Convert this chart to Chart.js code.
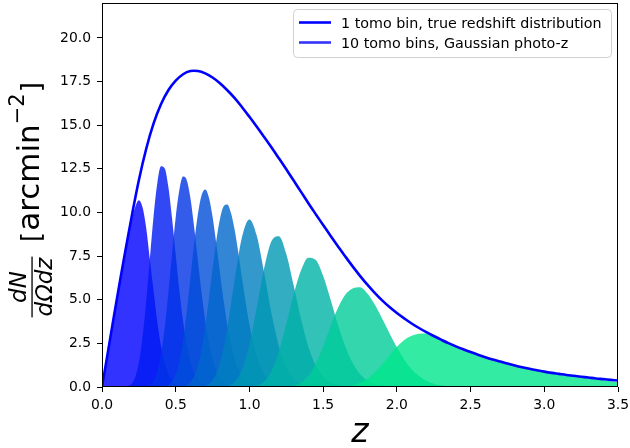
<!DOCTYPE html>
<html><head><meta charset="utf-8">
<script src="https://cdn.jsdelivr.net/npm/chart.js@4.4.1/dist/chart.umd.min.js"></script>
<style>html,body{margin:0;padding:0;background:#fff;}canvas{display:block;}</style>
</head><body>
<canvas id="c" width="630" height="448"></canvas>
<script>
// ---- data ----
const zMain = [0,0.05,0.1,0.15,0.2,0.25,0.3,0.35,0.4,0.45,0.5,0.55,0.6,0.65,0.7,0.75,0.8,0.85,0.9,0.95,1.0,1.05,1.1,1.15,1.2,1.25,1.3,1.35,1.4,1.45,1.5,1.55,1.6,1.65,1.7,1.75,1.8,1.85,1.9,1.95,2.0,2.05,2.1,2.15,2.2,2.25,2.3,2.35,2.4,2.45,2.5,2.55,2.6,2.65,2.7,2.75,2.8,2.85,2.9,2.95,3.0,3.05,3.1,3.15,3.2,3.25,3.3,3.35,3.4,3.45,3.5];
const nTrue = [0,2.5,5.0,7.4,9.7,11.85,13.65,15.1,16.2,17.0,17.55,17.92,18.1,18.1,17.97,17.73,17.4,17.0,16.55,16.03,15.48,14.91,14.32,13.72,13.1,12.47,11.83,11.18,10.53,9.9,9.28,8.67,8.07,7.48,6.91,6.37,5.86,5.39,4.96,4.58,4.24,3.93,3.64,3.38,3.14,2.92,2.71,2.51,2.33,2.16,2.0,1.85,1.71,1.58,1.46,1.34,1.23,1.13,1.04,0.96,0.88,0.81,0.75,0.69,0.64,0.59,0.54,0.49,0.45,0.41,0.37];

// tomographic bins: first z and z spacing of each bin's samples
const binStart = [0, 0.15, 0.275, 0.425, 0.55, 0.65, 0.8, 0.95, 1.2, 1.55];
const binStep  = [0.025, 0.025, 0.025, 0.025, 0.025, 0.05, 0.05, 0.05, 0.05, 0.05];
const bin1  = [0,1.25,2.5,3.75,5.0,6.2,7.39,8.51,9.55,10.3,10.7,10.3,9.1,7.3,5.5,3.75,2.36,1.37,0.75,0.37,0.18,0.08,0.03,0.01,0];
const bin2  = [0.01,0.05,0.18,0.56,1.40,2.87,4.96,7.41,9.81,11.68,12.65,12.53,11.47,9.68,7.59,5.52,3.76,2.39,1.43,0.81,0.43,0.22,0.11,0.05,0.02,0];
const bin3  = [0,0.03,0.11,0.35,0.89,1.86,3.38,5.39,7.63,9.73,11.30,12.06,11.85,10.82,9.17,7.29,5.44,3.82,2.54,1.60,0.97,0.56,0.31,0.16,0.08,0.04,0.01];
const bin4  = [0.03,0.10,0.30,0.71,1.48,2.68,4.32,6.27,8.22,9.88,10.97,11.31,10.86,9.75,8.23,6.56,4.95,3.55,2.43,1.59,1.00,0.61,0.36,0.20,0.11,0.06,0.03,0.01];
const bin5  = [0.04,0.10,0.27,0.60,1.22,2.15,3.46,5.05,6.77,8.37,9.63,10.35,10.46,9.97,8.99,7.68,6.23,4.83,3.59,2.56,1.76,1.15,0.74,0.46,0.28,0.17,0.09,0.05,0.03,0.01];
const bin6  = [0.01,0.07,0.38,1.37,3.40,6.18,8.61,9.6,8.66,6.55,4.21,2.34,1.13,0.49,0.19,0.07,0.02];
const bin7  = [0.01,0.06,0.29,0.99,2.44,4.58,6.82,8.37,8.64,7.62,5.83,3.90,2.31,1.23,0.59,0.26,0.10,0.04,0.01];
const bin8  = [0,0.02,0.08,0.32,0.92,2.04,3.61,5.31,6.69,7.41,7.28,6.38,5.03,3.58,2.32,1.38,0.75,0.38,0.18,0.08,0.03,0.01];
const bin9  = [0,0.02,0.07,0.24,0.64,1.33,2.33,3.47,4.52,5.28,5.64,5.71,5.36,4.72,3.92,3.08,2.28,1.58,1.02,0.63,0.36,0.19,0.10,0.05,0.02,0];
const bin10 = [0,0.01,0.03,0.10,0.24,0.47,0.83,1.29,1.81,2.30,2.69,2.93,3.05,3.07,2.93,2.72,2.51,2.32,2.16,2.0,1.85,1.71,1.58,1.46,1.34,1.23,1.13,1.04,0.96,0.87,0.80,0.73,0.67,0.61,0.555,0.50,0.44,0.39,0.33,0.27];
const bins = [bin1,bin2,bin3,bin4,bin5,bin6,bin7,bin8,bin9,bin10];

const xTicks = [0,0.5,1.0,1.5,2.0,2.5,3.0,3.5];
const yTicks = [0,2.5,5.0,7.5,10.0,12.5,15.0,17.5,20.0];
const legendLabels = ['1 tomo bin, true redshift distribution','10 tomo bins, Gaussian photo-z'];

// ---- styles ----
const binColors = ['rgba(0,0,255,0.8)','rgba(0,26,242,0.8)','rgba(0,51,230,0.8)','rgba(0,77,217,0.8)','rgba(0,102,204,0.8)','rgba(0,128,191,0.8)','rgba(0,153,179,0.8)','rgba(0,179,166,0.8)','rgba(0,204,153,0.8)','rgba(0,230,140,0.8)'];
const mainColor = '#0000ff';
const FAM = '"DejaVu Sans", sans-serif';

const datasets = [{
  label: legendLabels[0],
  data: zMain.map((z,i)=>({x:z,y:nTrue[i]})),
  borderColor: mainColor, borderWidth: 2.6, fill: false, pointRadius: 0,
  tension: 0.4
}];
for (let k = bins.length - 1; k >= 0; k--) {
  datasets.push({
    label: k === 0 ? legendLabels[1] : '',
    data: bins[k].map((v,i)=>({x:+(binStart[k]+i*binStep[k]).toFixed(3), y:v})),
    borderWidth: 0, borderColor: 'rgba(0,0,0,0)', backgroundColor: binColors[k],
    fill: 'origin', pointRadius: 0, cubicInterpolationMode: 'monotone'
  });
}

const decor = {
  id: 'decor',
  afterDraw(chart) {
    const ctx = chart.ctx, a = chart.chartArea;
    ctx.save();
    // frame
    ctx.strokeStyle = '#000'; ctx.lineWidth = 1;
    ctx.strokeRect(Math.round(a.left)+0.5, Math.round(a.top)+0.5, Math.round(a.right-a.left)-1, Math.round(a.bottom-a.top)-1);
    // legend
    ctx.beginPath();
    ctx.roundRect(293.5, 9.5, 318, 48, 4);
    ctx.fillStyle = 'rgba(255,255,255,0.8)'; ctx.fill();
    ctx.strokeStyle = 'rgba(204,204,204,0.9)'; ctx.lineWidth = 1; ctx.stroke();
    const rows = [{y:22.5,c:mainColor},{y:42.5,c:binColors[0]}];
    ctx.font = '14.3px ' + FAM; ctx.fillStyle = '#000'; ctx.textAlign = 'left'; ctx.textBaseline = 'alphabetic';
    rows.forEach((r,i)=>{
      ctx.beginPath(); ctx.moveTo(299, r.y); ctx.lineTo(331, r.y);
      ctx.strokeStyle = r.c; ctx.lineWidth = 2.6; ctx.stroke();
      ctx.fillText(legendLabels[i], 341, r.y + 5);
    });
    // x title
    ctx.font = 'italic 33px ' + FAM; ctx.textAlign = 'center';
    ctx.fillText('z', 360, 442);
    // y title (rotated)
    ctx.translate(30, 197); ctx.rotate(-Math.PI/2);
    ctx.font = 'italic 23px ' + FAM; ctx.textAlign = 'center';
    const wN = ctx.measureText('dN').width, wD = ctx.measureText('d\u03A9dz').width;
    ctx.fillText('dN', -90, -4);
    ctx.fillText('d\u03A9dz', -90, 22);
    const bw = Math.max(wN, wD) + 2;
    ctx.fillRect(-90 - bw/2, 1.4, bw, 1.3);
    ctx.textAlign = 'left';
    let u = -45;
    ctx.font = '26px ' + FAM; ctx.fillText('[', u, 10); u += ctx.measureText('[').width + 1;
    ctx.font = '31px ' + FAM; ctx.fillText('arcmin', u, 9); u += ctx.measureText('arcmin').width;
    ctx.font = '21px ' + FAM; ctx.fillText('\u22122', u, -6); u += ctx.measureText('\u22122').width + 1;
    ctx.font = '26px ' + FAM; ctx.fillText(']', u, 10);
    ctx.restore();
  }
};

new Chart(document.getElementById('c'), {
  type: 'line',
  data: { datasets },
  options: {
    responsive: false, animation: false, devicePixelRatio: 1,
    layout: { padding: { left: 0, top: 3, right: 12, bottom: 0 } },
    plugins: { legend: { display: false }, tooltip: { enabled: false } },
    elements: { point: { radius: 0 } },
    scales: {
      x: {
        type: 'linear', min: 0, max: 3.5,
        afterBuildTicks: s => { s.ticks = xTicks.map(v => ({ value: v })); },
        ticks: { callback: v => v.toFixed(1), font: { family: FAM, size: 13.9 }, color: '#000', padding: 5, maxRotation: 0, autoSkip: false },
        grid: { display: true, drawOnChartArea: false, drawTicks: true, tickLength: 5, tickColor: '#000', tickWidth: 1 },
        border: { display: false },
        afterFit: s => { s.height = 61; s.paddingLeft = 0; s.paddingRight = 0; }
      },
      y: {
        type: 'linear', min: 0, max: 22,
        afterBuildTicks: s => { s.ticks = yTicks.map(v => ({ value: v })); },
        ticks: { callback: v => v.toFixed(1), font: { family: FAM, size: 13.9 }, color: '#000', padding: 6, autoSkip: false },
        grid: { display: true, drawOnChartArea: false, drawTicks: true, tickLength: 5, tickColor: '#000', tickWidth: 1 },
        border: { display: false },
        afterFit: s => { s.width = 102; s.paddingTop = 0; s.paddingBottom = 0; }
      }
    }
  },
  plugins: [decor]
});
</script>
</body></html>
